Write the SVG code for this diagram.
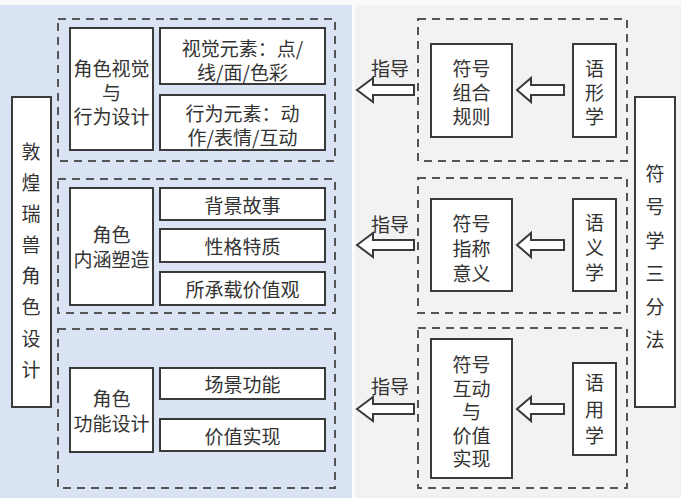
<svg xmlns="http://www.w3.org/2000/svg" width="681" height="498" viewBox="0 0 681 498">
<style>
.bg{stroke:none}
.dash{fill:none;stroke:#555;stroke-width:2;stroke-dasharray:8 6}
.box{fill:#fff;stroke:#3a3a3a;stroke-width:2}
.arrow{fill:#fff;stroke:#3a3a3a;stroke-width:2;stroke-linejoin:miter}
text{font-family:"Noto Sans CJK SC","Noto Sans",sans-serif;font-size:19px;fill:#333;text-anchor:middle;dominant-baseline:central}
</style>
<rect x="0" y="0" width="681" height="498" fill="#fbfbfb"/>
<rect class="bg" x="0" y="5" width="352" height="493" fill="#d9e3f4"/>
<rect class="bg" x="355" y="5" width="326" height="493" fill="#f2f2f2"/>

<g id="group-left-1"><rect class="dash" x="58" y="19" width="277" height="142"/></g>
<g id="group-left-2"><rect class="dash" x="58" y="179" width="277" height="134"/></g>
<g id="group-left-3"><rect class="dash" x="58" y="329" width="277" height="159"/></g>
<g id="group-right-1"><rect class="dash" x="418" y="19" width="209" height="142"/></g>
<g id="group-right-2"><rect class="dash" x="418" y="178" width="209" height="135"/></g>
<g id="group-right-3"><rect class="dash" x="418" y="328" width="209" height="160"/></g>

<g id="node-dunhuang">
<rect class="box" x="12" y="97" width="39" height="310"/>
<text x="31" y="150">敦</text><text x="31" y="181">煌</text><text x="31" y="212">瑞</text><text x="31" y="243">兽</text><text x="31" y="274">角</text><text x="31" y="305">色</text><text x="31" y="337">设</text><text x="31" y="368">计</text>
</g>

<g id="node-visual-behavior">
<rect class="box" x="70" y="28" width="83" height="122"/>
<text x="111.5" y="67">角色视觉</text><text x="111.5" y="91">与</text><text x="111.5" y="115">行为设计</text>
</g>
<g id="node-visual-elements">
<rect class="box" x="160" y="28" width="165" height="56"/>
<text x="242.5" y="47">视觉元素：点/</text><text x="242.5" y="71">线/面/色彩</text>
</g>
<g id="node-behavior-elements">
<rect class="box" x="160" y="95" width="165" height="55"/>
<text x="242.5" y="112">行为元素：动</text><text x="242.5" y="136">作/表情/互动</text>
</g>

<g id="node-connotation">
<rect class="box" x="70" y="188" width="83" height="117"/>
<text x="111.5" y="233">角色</text><text x="111.5" y="258">内涵塑造</text>
</g>
<g id="node-story">
<rect class="box" x="160" y="188" width="165" height="32"/>
<text x="242.5" y="204">背景故事</text>
</g>
<g id="node-personality">
<rect class="box" x="160" y="229" width="165" height="33"/>
<text x="242.5" y="245.5">性格特质</text>
</g>
<g id="node-values">
<rect class="box" x="160" y="272" width="165" height="33"/>
<text x="242.5" y="288.5">所承载价值观</text>
</g>

<g id="node-function">
<rect class="box" x="70" y="368" width="83" height="84"/>
<text x="111.5" y="397">角色</text><text x="111.5" y="422">功能设计</text>
</g>
<g id="node-scene">
<rect class="box" x="160" y="368" width="165" height="31"/>
<text x="242.5" y="383.5">场景功能</text>
</g>
<g id="node-value-realize">
<rect class="box" x="160" y="419" width="165" height="32"/>
<text x="242.5" y="435">价值实现</text>
</g>

<g id="node-combination">
<rect class="box" x="431" y="44" width="81" height="93"/>
<text x="471.5" y="67">符号</text><text x="471.5" y="91">组合</text><text x="471.5" y="115">规则</text>
</g>
<g id="node-syntactics">
<rect class="box" x="573" y="44" width="43" height="93"/>
<text x="594.5" y="67">语</text><text x="594.5" y="91">形</text><text x="594.5" y="115">学</text>
</g>
<g id="node-reference">
<rect class="box" x="431" y="199" width="81" height="92"/>
<text x="471.5" y="222">符号</text><text x="471.5" y="247">指称</text><text x="471.5" y="272">意义</text>
</g>
<g id="node-semantics">
<rect class="box" x="573" y="199" width="43" height="92"/>
<text x="594.5" y="221">语</text><text x="594.5" y="246">义</text><text x="594.5" y="271">学</text>
</g>
<g id="node-interaction">
<rect class="box" x="431" y="339" width="81" height="139"/>
<text x="471.5" y="363">符号</text><text x="471.5" y="387">互动</text><text x="471.5" y="410">与</text><text x="471.5" y="434">价值</text><text x="471.5" y="457">实现</text>
</g>
<g id="node-pragmatics">
<rect class="box" x="573" y="363" width="43" height="92"/>
<text x="594.5" y="381">语</text><text x="594.5" y="408">用</text><text x="594.5" y="434">学</text>
</g>

<g id="node-semiotics">
<rect class="box" x="635" y="97" width="40" height="310"/>
<text x="655" y="172">符</text><text x="655" y="205">号</text><text x="655" y="239">学</text><text x="655" y="272">三</text><text x="655" y="305">分</text><text x="655" y="338">法</text>
</g>

<g id="connectors">
<path class="arrow" d="M517,90 L531,78 L531,85 L564,85 L564,95 L531,95 L531,102 Z"/>
<path class="arrow" d="M357,90 L373,78 L373,85 L414,85 L414,95 L373,95 L373,102 Z"/>
<text x="390" y="67">指导</text>
<path class="arrow" d="M517,245 L531,233 L531,240 L564,240 L564,250 L531,250 L531,257 Z"/>
<path class="arrow" d="M357,245 L373,233 L373,240 L414,240 L414,250 L373,250 L373,257 Z"/>
<text x="390" y="223">指导</text>
<path class="arrow" d="M517,409 L531,397 L531,404 L564,404 L564,414 L531,414 L531,421 Z"/>
<path class="arrow" d="M357,409 L373,397 L373,404 L414,404 L414,414 L373,414 L373,421 Z"/>
<text x="390" y="385">指导</text>
</g>
</svg>
